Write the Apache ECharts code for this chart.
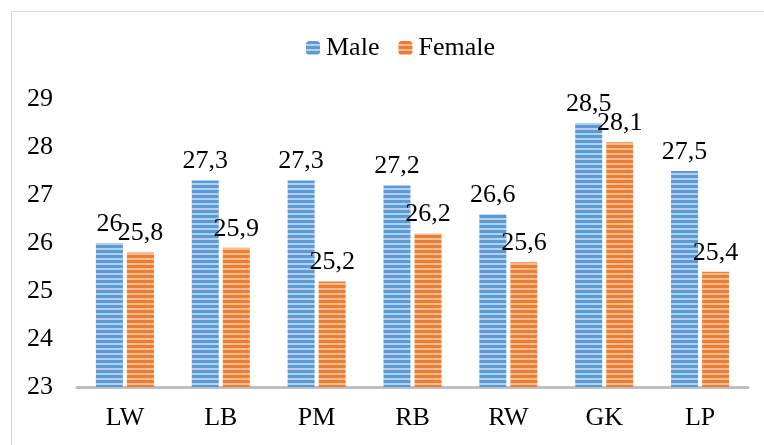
<!DOCTYPE html>
<html><head><meta charset="utf-8">
<script src="https://cdn.jsdelivr.net/npm/echarts@6/dist/echarts.min.js"></script>
<style>html,body{margin:0;padding:0;background:#fff}#c{width:764px;height:445px}</style>
</head><body><div id="c"></div>
<script>
const categories = ['LW','LB','PM','RB','RW','GK','LP'];
const maleValues = [26, 27.3, 27.3, 27.2, 26.6, 28.5, 27.5];
const femaleValues = [25.8, 25.9, 25.2, 26.2, 25.6, 28.1, 25.4];
const seriesNames = ['Male','Female'];

function stripe(dark, light){
  const c = document.createElement('canvas');
  c.width = 4; c.height = 5;
  const g = c.getContext('2d');
  g.fillStyle = light; g.fillRect(0,0,4,5);
  g.fillStyle = dark; g.fillRect(0,0,4,3);
  return {image: c, repeat: 'repeat'};
}
const bluePat = stripe('#5b9bd5', '#b4d0ee');
const orangePat = stripe('#ed7d31', '#f6bd96');
const font = '"Liberation Serif", "Times New Roman", serif';
const fs = 26;

const chart = echarts.init(document.getElementById('c'), null, {renderer:'canvas'});
chart.setOption({
  animation: false,
  textStyle: {fontFamily: font},
  graphic: [{type:'rect', left: 9, top: 9, shape:{width: 800, height: 500}, style:{fill:'none', stroke:'#d9d9d9', lineWidth:1}, z:-1}],
  legend: {
    top: 30, left: 301, itemWidth: 14, itemHeight: 14, itemGap: 19,
    textStyle: {fontFamily: font, fontSize: fs, color: '#000', padding: [0,0,0,1]},
    data: seriesNames
  },
  grid: {left: 77, right: 16, top: 99, bottom: 58},
  xAxis: {
    type: 'category', data: categories,
    axisLine: {lineStyle: {color: '#bfbfbf', width: 3}},
    axisTick: {show: false},
    axisLabel: {fontFamily: font, fontSize: fs, color: '#000', margin: 18}
  },
  yAxis: {
    type: 'value', min: 23, max: 29, interval: 1,
    axisLine: {show: false}, axisTick: {show: false}, splitLine: {show: false},
    axisLabel: {fontFamily: font, fontSize: fs, color: '#000', margin: 24}
  },
  series: [
    {name: seriesNames[0], type: 'bar', data: maleValues, barWidth: 27, barGap: '15%',
     itemStyle: {color: bluePat},
     label: {show: true, position: 'top', fontFamily: font, fontSize: fs, color: '#000', distance: 6,
       formatter: p => String(p.value).replace('.', ',')}},
    {name: seriesNames[1], type: 'bar', data: femaleValues, barWidth: 27,
     itemStyle: {color: orangePat},
     label: {show: true, position: 'top', fontFamily: font, fontSize: fs, color: '#000', distance: 6,
       formatter: p => String(p.value).replace('.', ',')}}
  ]
});
</script></body></html>
